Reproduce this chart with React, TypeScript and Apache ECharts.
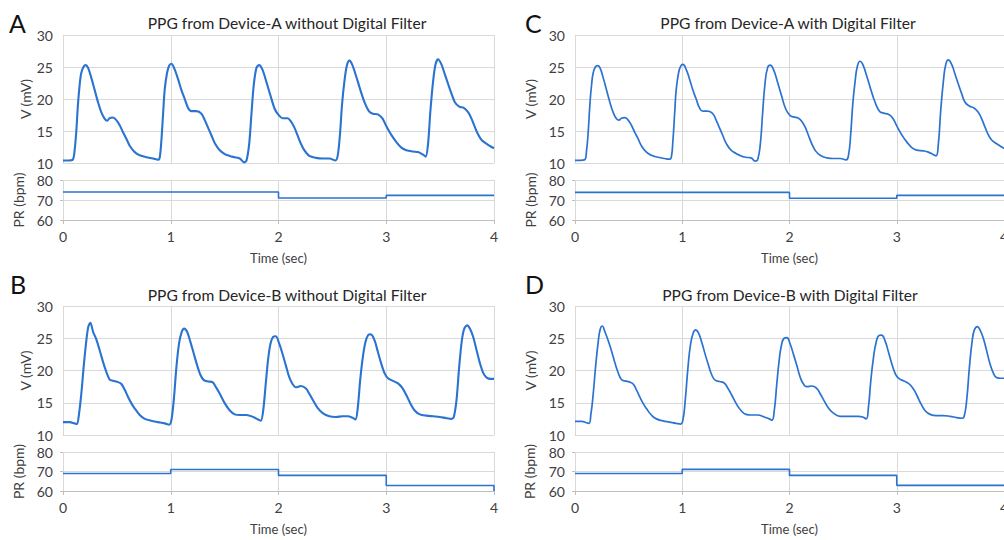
import React, { useEffect, useRef } from "react";
import * as echarts from "echarts";

// ---------- DATA (time in sec, voltage in mV) ----------
const ppgA: [number, number][] = [
  [0, 10.4], [0.05, 10.4], [0.09, 10.5], [0.108, 12], [0.124, 15.1], [0.139, 19.2], [0.155, 22.3], [0.17, 24.1],
  [0.19, 25.0], [0.21, 25.3], [0.232, 24.9], [0.263, 23.3], [0.294, 21.4], [0.325, 19.5], [0.356, 17.9], [0.387, 16.9],
  [0.41, 16.6], [0.433, 17.0], [0.464, 17.1], [0.495, 16.7], [0.526, 15.9], [0.557, 14.8], [0.588, 13.8], [0.619, 12.7],
  [0.666, 11.7], [0.712, 11.2], [0.774, 10.9], [0.836, 10.7], [0.882, 10.5], [0.898, 10.9],
  [0.913, 13.5], [0.929, 17.7], [0.944, 21.5], [0.966, 24.1], [0.985, 25.2], [1.006, 25.5], [1.037, 24.6], [1.068, 23.1],
  [1.099, 21.4], [1.13, 20.0], [1.161, 18.6], [1.192, 18.1], [1.238, 18.1], [1.285, 17.7], [1.316, 16.7], [1.347, 15.5],
  [1.378, 14.3], [1.409, 13.1], [1.455, 12.0], [1.502, 11.4], [1.548, 11.1], [1.594, 10.9], [1.641, 10.7], [1.681, 10.1],
  [1.703, 10.4],
  [1.728, 13.0], [1.749, 17.7], [1.771, 22.3], [1.796, 24.9], [1.82, 25.3], [1.851, 24.6], [1.889, 22.6], [1.926, 20.5],
  [1.966, 18.4], [2.006, 17.4], [2.037, 17.0], [2.084, 17.0], [2.115, 16.5], [2.146, 15.6], [2.177, 14.3], [2.208, 13.0],
  [2.239, 12.0], [2.286, 11.1], [2.348, 10.8], [2.41, 10.7], [2.472, 10.7], [2.528, 10.4], [2.55, 11.2],
  [2.571, 14.6], [2.59, 19.2], [2.612, 22.8], [2.634, 25.2], [2.658, 26.0], [2.683, 25.4], [2.72, 23.6], [2.758, 21.5],
  [2.798, 19.5], [2.839, 18.1], [2.876, 17.7], [2.922, 17.6], [2.963, 17.0], [3.0, 15.8], [3.047, 14.4], [3.093, 13.3],
  [3.14, 12.4], [3.186, 12.0], [3.248, 11.8], [3.295, 11.7], [3.342, 11.3], [3.366, 11.0],
  [3.388, 13.0], [3.41, 18.2], [3.435, 22.8], [3.457, 25.4], [3.481, 26.2], [3.512, 25.4], [3.543, 23.9], [3.575, 22.3],
  [3.606, 20.8], [3.637, 19.5], [3.677, 18.8], [3.72, 18.6], [3.761, 17.9], [3.792, 16.9], [3.823, 15.6], [3.854, 14.4],
  [3.885, 13.6], [3.932, 13.0], [3.978, 12.5], [4.0, 12.3],
];

const ppgC: [number, number][] = [
  [0, 10.4], [0.05, 10.4], [0.09, 10.5], [0.108, 12], [0.124, 15.1], [0.139, 19.2], [0.155, 22.3], [0.17, 24.1],
  [0.19, 25.0], [0.21, 25.2], [0.232, 24.9], [0.263, 23.3], [0.294, 21.4], [0.325, 19.5], [0.356, 17.9], [0.387, 16.9],
  [0.41, 16.7], [0.433, 17.0], [0.464, 17.1], [0.495, 16.7], [0.526, 15.9], [0.557, 14.8], [0.588, 13.8], [0.619, 12.7],
  [0.666, 11.7], [0.712, 11.2], [0.774, 10.9], [0.836, 10.7], [0.882, 10.6], [0.898, 10.9],
  [0.913, 13.5], [0.929, 17.7], [0.944, 21.5], [0.966, 24.1], [0.985, 25.1], [1.006, 25.4], [1.037, 24.6], [1.068, 23.1],
  [1.099, 21.4], [1.13, 20.0], [1.161, 18.6], [1.192, 18.1], [1.238, 18.1], [1.285, 17.7], [1.316, 16.7], [1.347, 15.5],
  [1.378, 14.3], [1.409, 13.1], [1.455, 12.0], [1.502, 11.5], [1.548, 11.1], [1.594, 10.9], [1.641, 10.8], [1.681, 10.3],
  [1.703, 10.5],
  [1.728, 13.0], [1.749, 17.7], [1.771, 22.3], [1.796, 24.9], [1.82, 25.3], [1.851, 24.6], [1.889, 22.6], [1.926, 20.5],
  [1.966, 18.4], [2.006, 17.4], [2.037, 17.2], [2.084, 17.0], [2.115, 16.5], [2.146, 15.6], [2.177, 14.3], [2.208, 13.0],
  [2.239, 12.0], [2.286, 11.2], [2.348, 10.8], [2.41, 10.7], [2.472, 10.7], [2.528, 10.5], [2.55, 11.2],
  [2.571, 14.6], [2.59, 19.2], [2.612, 22.8], [2.634, 25.2], [2.658, 25.9], [2.683, 25.4], [2.72, 23.6], [2.758, 21.5],
  [2.798, 19.5], [2.839, 18.1], [2.876, 17.8], [2.922, 17.6], [2.963, 17.0], [3.0, 15.8], [3.047, 14.4], [3.093, 13.3],
  [3.14, 12.4], [3.186, 12.0], [3.248, 11.9], [3.295, 11.7], [3.342, 11.3], [3.366, 11.1],
  [3.388, 13.0], [3.41, 18.2], [3.435, 22.8], [3.457, 25.4], [3.481, 26.1], [3.512, 25.4], [3.543, 23.9], [3.575, 22.3],
  [3.606, 20.8], [3.637, 19.5], [3.677, 18.9], [3.72, 18.6], [3.761, 17.9], [3.792, 16.9], [3.823, 15.6], [3.854, 14.4],
  [3.885, 13.6], [3.932, 13.0], [3.978, 12.5], [4.0, 12.3],
];

const ppgB: [number, number][] = [
  [0, 12.0], [0.062, 12.0], [0.108, 11.8], [0.13, 11.7], [0.149, 13.3], [0.17, 16.4], [0.192, 20.6], [0.217, 24.7],
  [0.235, 26.8], [0.254, 27.4], [0.279, 26.0], [0.31, 24.8], [0.341, 23.1], [0.372, 21.3], [0.402, 19.8], [0.433, 18.6],
  [0.464, 18.4], [0.511, 18.2], [0.542, 17.9], [0.573, 17.0], [0.604, 15.9], [0.635, 14.9], [0.666, 14.1], [0.712, 13.1],
  [0.759, 12.5], [0.82, 12.2], [0.882, 12.0], [0.944, 11.8], [0.985, 11.6], [1.006, 12.3],
  [1.028, 15.4], [1.053, 20.6], [1.077, 24.2], [1.102, 26.0], [1.124, 26.5], [1.152, 26.0], [1.183, 24.4], [1.214, 22.6],
  [1.245, 20.8], [1.276, 19.3], [1.307, 18.5], [1.347, 18.3], [1.387, 18.2], [1.424, 17.3], [1.461, 16.2], [1.502, 14.9],
  [1.548, 13.8], [1.594, 13.2], [1.641, 13.1], [1.703, 13.1], [1.765, 12.8], [1.811, 12.4], [1.836, 12.2],
  [1.858, 13.8], [1.882, 18.0], [1.904, 21.8], [1.926, 24.2], [1.95, 25.2], [1.975, 25.3], [2.006, 24.2], [2.037, 22.6],
  [2.068, 20.8], [2.099, 19.0], [2.13, 17.9], [2.161, 17.4], [2.208, 17.6], [2.255, 17.2], [2.286, 16.4], [2.323, 15.3],
  [2.363, 14.2], [2.41, 13.4], [2.472, 12.9], [2.534, 12.8], [2.596, 12.9], [2.643, 12.9], [2.683, 12.7], [2.714, 12.4],
  [2.736, 14.3], [2.758, 18.5], [2.783, 22.1], [2.807, 24.4], [2.832, 25.5], [2.857, 25.6], [2.891, 24.7], [2.922, 22.9],
  [2.953, 21.1], [2.984, 19.6], [3.016, 18.8], [3.062, 18.4], [3.109, 18.0], [3.149, 17.3], [3.186, 16.2], [3.224, 14.9],
  [3.264, 13.8], [3.311, 13.2], [3.373, 13.0], [3.435, 12.9], [3.497, 12.8], [3.559, 12.6], [3.606, 12.5], [3.627, 12.8],
  [3.652, 15.4], [3.677, 20.6], [3.702, 24.7], [3.724, 26.5], [3.752, 27.0], [3.776, 26.5], [3.807, 25.2], [3.839, 23.1],
  [3.87, 21.1], [3.901, 19.6], [3.932, 18.9], [3.969, 18.7], [4.0, 18.7],
];

const ppgD: [number, number][] = [
  [0, 12.1], [0.062, 12.1], [0.108, 11.9], [0.13, 11.8], [0.149, 13.3], [0.17, 16.4], [0.192, 20.6], [0.217, 24.5],
  [0.235, 26.4], [0.254, 26.9], [0.279, 26.0], [0.31, 24.6], [0.341, 23.0], [0.372, 21.2], [0.402, 19.7], [0.433, 18.6],
  [0.464, 18.4], [0.511, 18.2], [0.542, 17.9], [0.573, 17.0], [0.604, 15.9], [0.635, 14.9], [0.666, 14.1], [0.712, 13.1],
  [0.759, 12.5], [0.82, 12.2], [0.882, 12.0], [0.944, 11.8], [0.985, 11.7], [1.006, 12.3],
  [1.028, 15.4], [1.053, 20.4], [1.077, 24.0], [1.102, 25.8], [1.124, 26.3], [1.152, 25.8], [1.183, 24.3], [1.214, 22.5],
  [1.245, 20.8], [1.276, 19.3], [1.307, 18.5], [1.347, 18.3], [1.387, 18.1], [1.424, 17.3], [1.461, 16.2], [1.502, 14.9],
  [1.548, 13.8], [1.594, 13.2], [1.641, 13.1], [1.703, 13.1], [1.765, 12.8], [1.811, 12.5], [1.836, 12.3],
  [1.858, 13.8], [1.882, 18.0], [1.904, 21.6], [1.926, 24.0], [1.95, 25.0], [1.975, 25.1], [2.006, 24.1], [2.037, 22.5],
  [2.068, 20.8], [2.099, 19.0], [2.13, 17.9], [2.161, 17.5], [2.208, 17.6], [2.255, 17.2], [2.286, 16.4], [2.323, 15.3],
  [2.363, 14.2], [2.41, 13.4], [2.472, 12.9], [2.534, 12.9], [2.596, 12.9], [2.643, 12.9], [2.683, 12.8], [2.714, 12.5],
  [2.736, 14.3], [2.758, 18.4], [2.783, 22.0], [2.807, 24.3], [2.832, 25.4], [2.857, 25.5], [2.891, 24.6], [2.922, 22.9],
  [2.953, 21.1], [2.984, 19.6], [3.016, 18.8], [3.062, 18.4], [3.109, 18.0], [3.149, 17.3], [3.186, 16.2], [3.224, 14.9],
  [3.264, 13.8], [3.311, 13.2], [3.373, 13.0], [3.435, 13.0], [3.497, 12.9], [3.559, 12.7], [3.606, 12.6], [3.627, 12.8],
  [3.652, 15.4], [3.677, 20.4], [3.702, 24.4], [3.724, 26.3], [3.752, 26.8], [3.776, 26.3], [3.807, 25.0], [3.839, 23.0],
  [3.87, 21.0], [3.901, 19.6], [3.932, 18.9], [3.969, 18.8], [4.0, 18.8],
];

// Pulse rate (bpm), held from each time until the next
const prTimeA = [0, 1, 2, 3, 4];
const prA = [74, 74, 71, 72.3, 72.3];
const prC = [73.8, 73.8, 70.9, 72.3, 72.3];
const prTimeB = [0, 1, 2, 3, 4, 4];
const prB = [69, 71, 68, 62.8, 62.8, 60];
const prTimeD = [0, 1, 2, 3, 4];
const prD = [69, 71.1, 68, 62.9, 62.9];

const titles = [
  "PPG from Device-A without Digital Filter",
  "PPG from Device-B without Digital Filter",
  "PPG from Device-A with Digital Filter",
  "PPG from Device-B with Digital Filter",
];
const letters = ["A", "B", "C", "D"];
const xTicks = [0, 1, 2, 3, 4];

// ---------- LAYOUT ----------
const FONT = "Lato, 'Open Sans', sans-serif";
const BLUE = "#2b73d0";
const GRIDC = "#d9d9d9";
const TXT = "#404040";

type Panel = {
  left: number; width: number; top: number; ppgH: number; prTop: number; prH: number;
  vGap: number; prGap: number; titleX: number; titleY: number; letterX: number; letterY: number;
};

const panels: Panel[] = [
  { left: 63, width: 431, top: 35, ppgH: 128, prTop: 180, prH: 40, vGap: 30, prGap: 38, titleX: 287, titleY: 23, letterX: 9, letterY: 10 },
  { left: 63, width: 431, top: 306, ppgH: 129, prTop: 452, prH: 39, vGap: 30, prGap: 38, titleX: 287, titleY: 295, letterX: 10, letterY: 271 },
  { left: 575, width: 429, top: 35, ppgH: 128, prTop: 180, prH: 40, vGap: 38, prGap: 38, titleX: 788, titleY: 23, letterX: 525, letterY: 10 },
  { left: 575, width: 429, top: 306, ppgH: 129, prTop: 452, prH: 39, vGap: 38, prGap: 39, titleX: 790, titleY: 295, letterX: 525, letterY: 271 },
];

export default function App() {
  const ref = useRef<HTMLDivElement>(null);
  useEffect(() => {
    if (!ref.current) return;
    const chart = echarts.init(ref.current, null, { renderer: "svg" });
    const ppgData = [ppgA, ppgB, ppgC, ppgD];
    const filtered = [false, false, true, true];
    const prData = [
      prTimeA.map((t, i) => [t, prA[i]]),
      prTimeB.map((t, i) => [t, prB[i]]),
      prTimeA.map((t, i) => [t, prC[i]]),
      prTimeD.map((t, i) => [t, prD[i]]),
    ];
    const grid: any[] = [];
    const xAxis: any[] = [];
    const yAxis: any[] = [];
    const series: any[] = [];
    const graphic: any[] = [];
    panels.forEach((p, k) => {
      grid.push({ left: p.left, top: p.top, width: p.width, height: p.ppgH });
      grid.push({ left: p.left, top: p.prTop, width: p.width, height: p.prH });
      const gi = k * 2;
      xAxis.push({
        type: "value", gridIndex: gi, min: 0, max: 4, interval: 1,
        axisLabel: { show: false }, axisTick: { show: false },
        axisLine: { show: true, lineStyle: { color: GRIDC } },
        splitLine: { show: true, lineStyle: { color: GRIDC, width: 1 } },
      });
      xAxis.push({
        type: "value", gridIndex: gi + 1, min: 0, max: 4, interval: 1,
        name: "Time (sec)", nameLocation: "middle", nameGap: 31,
        nameTextStyle: { fontFamily: FONT, fontSize: 13, color: TXT },
        axisLabel: { fontFamily: FONT, fontSize: 14, color: TXT, margin: 9, formatter: (v: number) => (xTicks.includes(v) ? String(v) : "") },
        axisTick: { show: true, length: 4, lineStyle: { color: "#bfbfbf" } },
        axisLine: { show: true, lineStyle: { color: "#bfbfbf" } },
        splitLine: { show: true, lineStyle: { color: GRIDC, width: 1 } },
      });
      yAxis.push({
        type: "value", gridIndex: gi, min: 10, max: 30, interval: 5,
        name: "V (mV)", nameLocation: "middle", nameGap: p.vGap,
        nameTextStyle: { fontFamily: FONT, fontSize: 14, color: TXT },
        axisLabel: { fontFamily: FONT, fontSize: 14, color: TXT, margin: 10 },
        axisTick: { show: false },
        axisLine: { show: false },
        splitLine: { show: true, lineStyle: { color: GRIDC, width: 1 } },
      });
      yAxis.push({
        type: "value", gridIndex: gi + 1, min: 60, max: 80, interval: 10,
        name: "PR (bpm)", nameLocation: "middle", nameGap: p.prGap,
        nameTextStyle: { fontFamily: FONT, fontSize: 14, color: TXT },
        axisLabel: { fontFamily: FONT, fontSize: 14, color: TXT, margin: 10 },
        axisTick: { show: true, length: 3, lineStyle: { color: "#bfbfbf" } },
        axisLine: { show: false },
        splitLine: { show: true, lineStyle: { color: GRIDC, width: 1 } },
      });
      series.push({
        type: "line", xAxisIndex: gi, yAxisIndex: gi, data: ppgData[k],
        showSymbol: false, symbol: "none", smooth: filtered[k] ? 0.5 : 0.3,
        lineStyle: { color: BLUE, width: filtered[k] ? 1.7 : 2.1 },
        clip: true,
      });
      series.push({
        type: "line", xAxisIndex: gi + 1, yAxisIndex: gi + 1, data: prData[k],
        showSymbol: false, symbol: "none", step: "end",
        lineStyle: { color: BLUE, width: 1.6 },
        clip: true,
      });
      graphic.push({
        type: "text", x: p.titleX, y: p.titleY,
        style: { text: titles[k], fontFamily: FONT, fontSize: 15.6, fill: "#262626", textAlign: "center", textVerticalAlign: "middle" },
      });
      graphic.push({
        type: "text", x: p.letterX, y: p.letterY,
        style: { text: letters[k], fontFamily: FONT, fontSize: 25, fill: "#111", textAlign: "left", textVerticalAlign: "top" },
      });
    });
    chart.setOption({
      animation: false,
      backgroundColor: "#ffffff",
      textStyle: { fontFamily: FONT },
      grid, xAxis, yAxis, series, graphic,
    });
    return () => chart.dispose();
  }, []);
  return (
    <div style={{ position: "fixed", left: 0, top: 0, width: 1004, height: 540, overflow: "hidden", background: "#fff" }}>
      <div ref={ref} style={{ width: 1040, height: 540 }} />
    </div>
  );
}
